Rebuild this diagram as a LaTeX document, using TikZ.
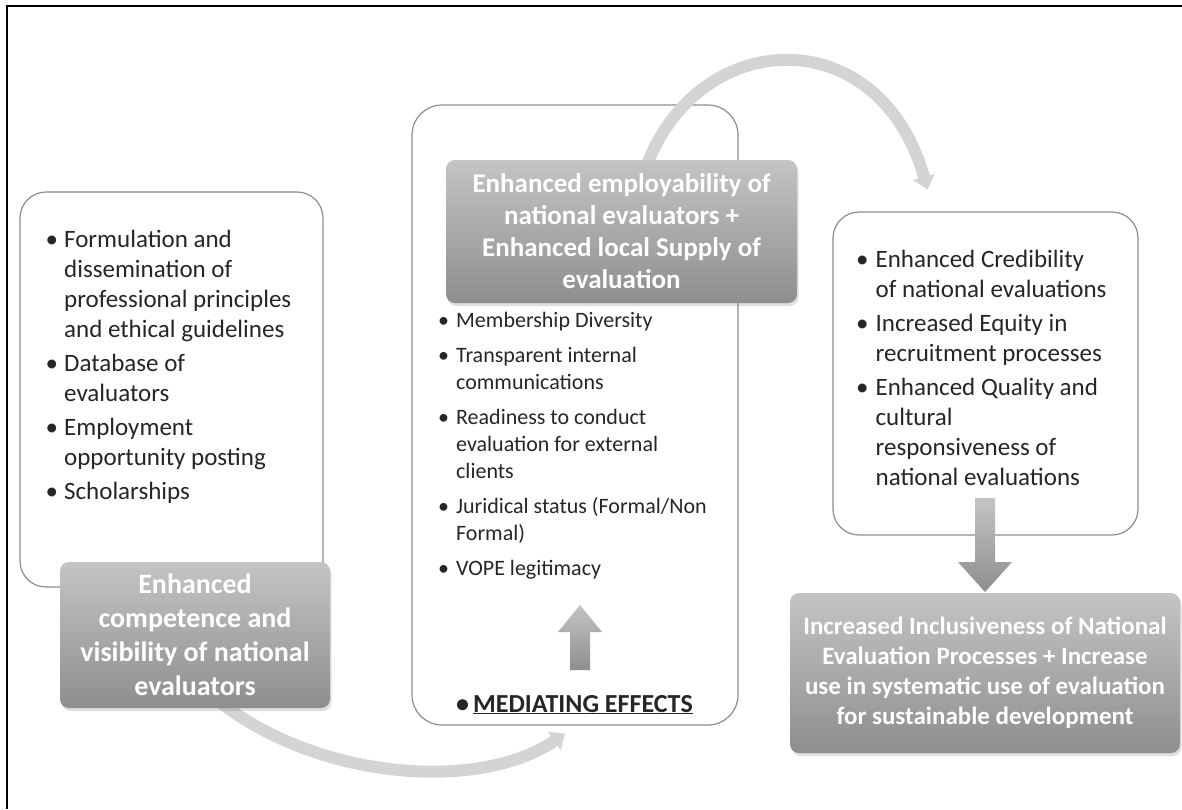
\documentclass[tikz,border=0pt]{standalone}
\usepackage{fontspec}
\setmainfont{Carlito}
\usetikzlibrary{arrows.meta,shadows,backgrounds}
\definecolor{edgegrey}{HTML}{8C8C8C}
\definecolor{shadetop}{HTML}{C4C4C4}
\definecolor{shadebot}{HTML}{8E8E8E}
\definecolor{curvegrey}{HTML}{D4D4D4}
\tikzset{
  wbox/.style={draw=edgegrey,fill=white,rounded corners=26pt,line width=1.2pt,inner sep=0pt},
  dark/.style={top color=shadetop,bottom color=shadebot,rounded corners=9pt,text=white,align=center,inner sep=0pt,
    drop shadow={opacity=0.25,shadow xshift=1.5pt,shadow yshift=-3pt}},
  lst/.style={inner sep=0pt,anchor=base west,text=black!85},
  carr/.style={-{Triangle[width=22pt,length=13pt]},line width=12pt,draw=curvegrey},
  barr/.style={top color=shadetop,bottom color=shadebot},
}

\begin{document}
\begin{tikzpicture}[x=1pt,y=-1pt]
\useasboundingbox (0,0) rectangle (1182,809);
\draw[line width=2.5pt] (7,809) -- (7,6) -- (1182,6);

% dark result boxes
\node[dark,minimum width=270pt,minimum height=146pt,font=\bfseries\fontsize{28}{34}\selectfont] (ldark) at (195,635)
  {Enhanced\\competence and\\visibility of national\\evaluators};
\node[dark,minimum width=351pt,minimum height=143pt,font=\bfseries\fontsize{27}{32}\selectfont] (mdark) at (621.5,231.5)
  {Enhanced employability of\\national evaluators +\\Enhanced local Supply of\\evaluation};
\node[dark,minimum width=390pt,minimum height=160pt,font=\bfseries\fontsize{25}{30}\selectfont] (odark) at (985,673)
  {Increased Inclusiveness of National\\Evaluation Processes + Increase\\use in systematic use of evaluation\\for sustainable development};

% white boxes and curved arrows behind
\begin{scope}[on background layer]
\node[wbox,minimum width=303pt,minimum height=395pt] (lbox) at (171.5,389.5) {};
\node[wbox,minimum width=326pt,minimum height=620pt,rounded corners=30pt] (mbox) at (575,415) {};
\node[wbox,minimum width=305pt,minimum height=323pt] (rbox) at (985.5,373.5) {};
\draw[carr] ([xshift=25pt,yshift=6pt]ldark.south) .. controls (320,780) and (480,792) .. ([xshift=-10pt,yshift=-8pt]mbox.south);
\draw[carr] ([xshift=25pt,yshift=-6pt]mdark.north) .. controls (700,25) and (880,20) .. ([xshift=-58pt,yshift=22pt]rbox.north);
\end{scope}

% block arrows
\shade[barr] (570,670) -- (590,670) -- (590,632) -- (602,632) -- (580,605) -- (558,632) -- (570,632) -- cycle;
\shade[barr] (975,498) -- (995,498) -- (995,562) -- (1012,562) -- (985,592) -- (958,562) -- (975,562) -- cycle;

% lists
\node[lst,font=\fontsize{25}{30}\selectfont] (ltxt) at (45.5,247) {\begin{tabular}[t]{@{}l@{\hspace{6pt}}l@{}}
  \textbullet & Formulation and\\ & dissemination of\\ & professional principles\\ & and ethical guidelines\\[4pt]
  \textbullet & Database of\\ & evaluators\\[4pt]
  \textbullet & Employment\\ & opportunity posting\\[4pt]
  \textbullet & Scholarships
\end{tabular}};
\node[lst,font=\fontsize{22}{27}\selectfont] (mtxt) at (438,327) {\begin{tabular}[t]{@{}l@{\hspace{7pt}}l@{}}
  \textbullet & Membership Diversity\\[8pt]
  \textbullet & Transparent internal\\ & communications\\[8pt]
  \textbullet & Readiness to conduct\\ & evaluation for external\\ & clients\\[8pt]
  \textbullet & Juridical status (Formal/Non\\ & Formal)\\[8pt]
  \textbullet & VOPE legitimacy
\end{tabular}};
\node[lst,font=\fontsize{25}{30}\selectfont] (rtxt) at (856,267) {\begin{tabular}[t]{@{}l@{\hspace{7pt}}l@{}}
  \textbullet & Enhanced Credibility\\ & of national evaluations\\[4pt]
  \textbullet & Increased Equity in\\ & recruitment processes\\[4pt]
  \textbullet & Enhanced Quality and\\ & cultural\\ & responsiveness of\\ & national evaluations
\end{tabular}};
\node[lst,font=\bfseries\fontsize{26}{30}\selectfont] (medi) at (456,712) {\textbullet\hspace{4pt}\underline{MEDIATING EFFECTS}};
\end{tikzpicture}
\end{document}
